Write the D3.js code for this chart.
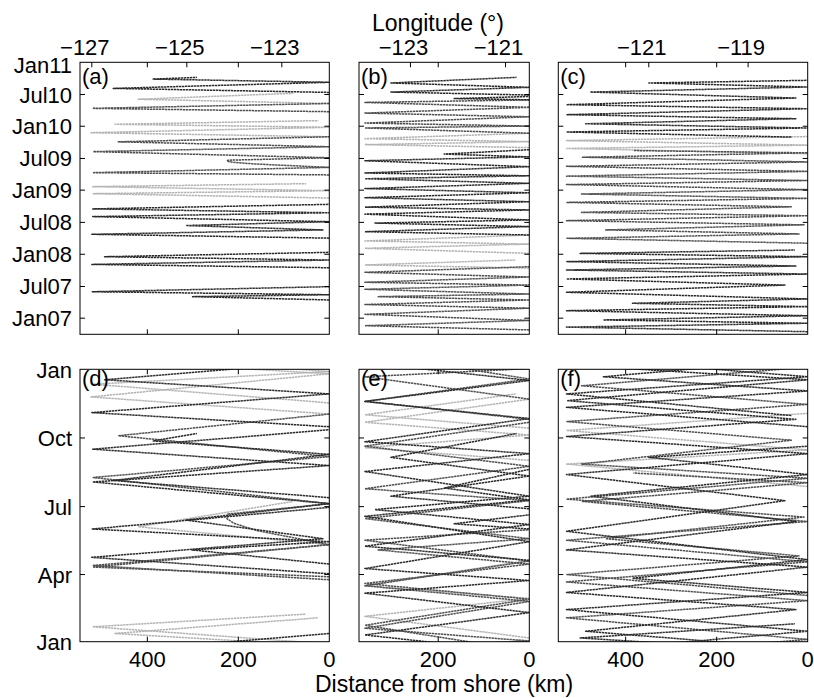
<!DOCTYPE html>
<html>
<head>
<meta charset="utf-8">
<script src="https://cdn.jsdelivr.net/npm/d3@7"></script>
<style>
  body { margin: 0; background: #fff; }
  svg text { font-family: "Liberation Sans", Arial, Helvetica, sans-serif; fill: #000; }
</style>
</head>
<body>
<svg id="chart" width="814" height="698"></svg>
<script>
// Glider transects: each mission is a list of turnaround points [date, distance from shore in km].
// Glider id selects the grey shade of the track.

// Line 66.7 (Monterey) -- panels (a) and (d)
const line67Missions = [
  { glider: "A", track: [["2007-04-15",0],["2007-05-04",302],["2007-05-15",0],["2007-06-01",521],["2007-06-30",0]] },
  { glider: "A", track: [["2007-10-16",0],["2007-11-04",522],["2007-11-29",0],["2007-12-18",494],["2008-01-12",0]] },
  { glider: "A", track: [["2008-04-02",0],["2008-04-24",522],["2008-05-19",14],["2008-06-13",315],["2008-07-05",0],["2008-08-03",520],["2008-08-25",0],["2008-09-16",520],["2008-10-12",0]] },
  { glider: "C", track: [["2008-11-17",0],["2008-12-12",519],["2008-12-29",0],["2009-01-21",520],["2009-02-07",51]] },
  { glider: "B", track: [["2009-03-29",0],["2009-04-11",520],["2009-05-11",0],["2009-05-30",160],["2009-06-09",211],["2009-06-15",225],["2009-06-21",223],["2009-07-05",0],["2009-08-09",519],["2009-09-06",0],["2009-10-04",464],["2009-11-02",0]] },
  { glider: "C", track: [["2009-11-02",0],["2009-11-25",524],["2009-12-26",0],["2010-01-12",471],["2010-02-02",24]] },
  { glider: "B", track: [["2010-03-25",0],["2010-04-13",520],["2010-05-11",0]] },
  { glider: "C", track: [["2010-05-11",0],["2010-06-04",420],["2010-07-08",79]] },
  { glider: "A", track: [["2010-07-13",0],["2010-08-05",475],["2010-09-09",0],["2010-09-27",387],["2010-10-07",291]] }
];

// Line 80 (Point Conception) -- panels (b) and (e)
const line80Missions = [
  { glider: "B", track: [["2006-10-26",0],["2006-11-19",361],["2006-12-19",0],["2007-01-23",361],["2007-02-27",0],["2007-03-20",361],["2007-04-15",0],["2007-05-04",332],["2007-05-19",0],["2007-06-15",361],["2007-07-09",0],["2007-07-25",361],["2007-08-24",0],["2007-09-20",361],["2007-10-22",0]] },
  { glider: "C", track: [["2007-10-14",0],["2007-11-01",361],["2007-11-29",30]] },
  { glider: "C", track: [["2008-01-06",0],["2008-02-04",361],["2008-02-28",0],["2008-03-17",361],["2008-04-20",0]] },
  { glider: "A", track: [["2008-04-20",0],["2008-05-09",361],["2008-06-07",0],["2008-06-27",339],["2008-07-15",0],["2008-08-17",361],["2008-09-10",0],["2008-09-26",361],["2008-10-27",0],["2008-11-19",361],["2008-12-17",0],["2009-01-10",361],["2009-02-09",0],["2009-03-07",361],["2009-03-24",0],["2009-04-09",361],["2009-05-15",0],["2009-06-18",361],["2009-07-10",0],["2009-07-26",187],["2009-08-20",0]] },
  { glider: "C", track: [["2009-09-01",0],["2009-09-18",361],["2009-10-05",0],["2009-10-22",361],["2009-11-22",0]] },
  { glider: "B", track: [["2009-11-22",0],["2009-12-22",361],["2010-01-02",0],["2010-01-19",361],["2010-02-24",0],["2010-03-17",361],["2010-04-19",0],["2010-05-17",361],["2010-05-31",0]] },
  { glider: "A", track: [["2010-06-01",0],["2010-06-08",165],["2010-06-20",0]] },
  { glider: "A", track: [["2010-06-28",0],["2010-07-15",304],["2010-08-11",0],["2010-09-05",304],["2010-10-07",28]] }
];

// Line 90 (Dana Point) -- panels (c) and (f)
const line90Missions = [
  { glider: "A", track: [["2006-10-16",0],["2006-11-11",530],["2006-12-03",0],["2006-12-22",449],["2007-01-15",0],["2007-02-13",530],["2007-03-08",0],["2007-03-27",385],["2007-04-21",0],["2007-05-29",530],["2007-07-09",50],["2007-08-13",530],["2007-09-10",0],["2007-10-03",530],["2007-10-26",26],["2007-11-20",529],["2007-12-18",0],["2008-01-06",500],["2008-01-25",28]] },
  { glider: "B", track: [["2008-03-04",0],["2008-04-01",529],["2008-04-26",19],["2008-05-19",444],["2008-06-17",8],["2008-07-11",530],["2008-08-08",0],["2008-08-27",497],["2008-09-28",36],["2008-10-23",529],["2008-11-15",0],["2008-12-10",497],["2009-01-04",0],["2009-02-02",530],["2009-02-25",0],["2009-03-22",530],["2009-04-18",0],["2009-05-17",530],["2009-06-11",0],["2009-07-08",495],["2009-08-02",0],["2009-08-15",383]] },
  { glider: "C", track: [["2009-07-28",0],["2009-08-27",530],["2009-09-15",0],["2009-10-11",530],["2009-11-03",0]] },
  { glider: "A", track: [["2009-10-31",36],["2009-11-29",530],["2009-12-22",0],["2010-01-15",488],["2010-02-13",26],["2010-03-08",530],["2010-04-11",0],["2010-05-04",530],["2010-06-11",26],["2010-07-15",478],["2010-08-13",0],["2010-09-05",349],["2010-09-20",0]] }
];

const gliderIds = ["A", "B", "C"];
const gliderShades = ["#2b2b2b", "#505050", "#b3b3b3"];

const lonTicks67 = [-127, -125, -123];
const lonTicks80 = [-123, -121];
const lonTicks90 = [-121, -119];
const kmTicks = [400, 200, 0];

// ---------------------------------------------------------------------------
const parseDate = d3.utcParse("%Y-%m-%d");
const svg = d3.select("#chart");
const FONT = 22;
const LABEL_FONT = 23;
const TICK = 5;

const shade = d3.scaleOrdinal().domain(gliderIds).range(gliderShades);

const topRow = { y0: 62.3, y1: 334.3 };
const botRow = { y0: 369.3, y1: 641.7 };

const panels = [
  { top: "a", bot: "d", missions: line67Missions, x0: 80,    x1: 329.3, maxKm: 548, lon0: -122.0,  kmPerDeg: 104.4, lonTicks: lonTicks67 },
  { top: "b", bot: "e", missions: line80Missions, x0: 359,   x1: 529.3, maxKm: 374, lon0: -120.50, kmPerDeg: 104.4, lonTicks: lonTicks80 },
  { top: "c", bot: "f", missions: line90Missions, x0: 558.3, x1: 807.7, maxKm: 548, lon0: -117.80, kmPerDeg: 109.1, lonTicks: lonTicks90 }
];

// time axes
const yTop = d3.scaleUtc()
  .domain([new Date(Date.UTC(2006, 9, 1)), new Date(Date.UTC(2011, 0, 1))])
  .range([topRow.y1, topRow.y0]);
const refYear = 2001;
const yBot = d3.scaleUtc()
  .domain([new Date(Date.UTC(refYear, 0, 1)), new Date(Date.UTC(refYear + 1, 0, 1))])
  .range([botRow.y1, botRow.y0]);

const topTicks = d3.utcMonth.every(6).range(new Date(Date.UTC(2007, 0, 1)), new Date(Date.UTC(2011, 0, 2)));
const botTicks = d3.utcMonth.every(3).range(new Date(Date.UTC(refYear, 0, 1)), new Date(Date.UTC(refYear + 1, 0, 2)));
const fmtTop = d3.utcFormat("%b%y");
const fmtBot = d3.utcFormat("%b");

const defs = svg.append("defs");

function frame(g, x0, x1, y0, y1) {
  g.append("rect").attr("x", x0).attr("y", y0).attr("width", x1 - x0).attr("height", y1 - y0)
    .attr("fill", "none").attr("stroke", "#000").attr("stroke-width", 1);
}

function tickMarks(g, x, y, xs, ys, x0, x1, y0, y1) {
  // inward ticks on all four sides
  xs.forEach(v => {
    const px = x(v);
    if (px <= x0 + 0.5 || px >= x1 - 0.5) return;
    g.append("line").attr("x1", px).attr("x2", px).attr("y1", y1).attr("y2", y1 - TICK).attr("stroke", "#000");
    g.append("line").attr("x1", px).attr("x2", px).attr("y1", y0).attr("y2", y0 + TICK).attr("stroke", "#000");
  });
  ys.forEach(v => {
    const py = y(v);
    if (py <= y0 + 0.5 || py >= y1 - 0.5) return;
    g.append("line").attr("x1", x0).attr("x2", x0 + TICK).attr("y1", py).attr("y2", py).attr("stroke", "#000");
    g.append("line").attr("x1", x1).attr("x2", x1 - TICK).attr("y1", py).attr("y2", py).attr("stroke", "#000");
  });
}

function sortedMissions(ms) {
  const order = { C: 0, B: 1, A: 2 };
  return ms.slice().sort((p, q) => order[p.glider] - order[q.glider]);
}

function drawTracks(g, data, lineGen) {
  g.selectAll("path").data(data).join("path")
    .attr("d", m => lineGen(m.pts))
    .attr("fill", "none").attr("stroke", m => shade(m.glider))
    .attr("stroke-width", 1.5).attr("stroke-linejoin", "round")
    .attr("stroke-dasharray", "2.4,0.6");
}

panels.forEach((p, i) => {
  const x = d3.scaleLinear().domain([p.maxKm, 0]).range([p.x0, p.x1]);

  // ---- top panel: full record
  const gT = svg.append("g");
  const clipT = "clipT" + i;
  defs.append("clipPath").attr("id", clipT).append("rect")
    .attr("x", p.x0).attr("y", topRow.y0).attr("width", p.x1 - p.x0).attr("height", topRow.y1 - topRow.y0);

  const full = sortedMissions(p.missions).map(m => ({
    glider: m.glider,
    pts: m.track.map(d => [parseDate(d[0]), d[1]])
  }));
  const lineT = d3.line().x(d => x(d[1])).y(d => yTop(d[0]));
  drawTracks(gT.append("g").attr("clip-path", `url(#${clipT})`), full, lineT);

  frame(gT, p.x0, p.x1, topRow.y0, topRow.y1);
  tickMarks(gT, x, yTop, kmTicks, topTicks, p.x0, p.x1, topRow.y0, topRow.y1);

  // longitude axis along the top
  const lonToKm = lon => (p.lon0 - lon) * p.kmPerDeg;
  p.lonTicks.forEach(lon => {
    const px = x(lonToKm(lon));
    gT.append("line").attr("x1", px).attr("x2", px).attr("y1", topRow.y0).attr("y2", topRow.y0 + TICK).attr("stroke", "#000");
    gT.append("text").attr("x", px - 7).attr("y", 55).attr("text-anchor", "middle")
      .attr("font-size", FONT).text("\u2212" + Math.abs(lon));
  });

  gT.append("text").attr("x", p.x0 + 2).attr("y", 84).attr("font-size", FONT).text(`(${p.top})`);

  // ---- bottom panel: all years folded onto one annual cycle
  const gB = svg.append("g");
  const clipB = "clipB" + i;
  defs.append("clipPath").attr("id", clipB).append("rect")
    .attr("x", p.x0).attr("y", botRow.y0).attr("width", p.x1 - p.x0).attr("height", botRow.y1 - botRow.y0);

  const folded = [];
  full.forEach(m => {
    const yFirst = m.pts[0][0].getUTCFullYear();
    const yLast = m.pts[m.pts.length - 1][0].getUTCFullYear();
    for (let yr = yFirst; yr <= yLast; yr++) {
      folded.push({
        glider: m.glider,
        pts: m.pts.map(d => [d3.utcYear.offset(d[0], refYear - yr), d[1]])
      });
    }
  });
  const lineB = d3.line().x(d => x(d[1])).y(d => yBot(d[0]));
  drawTracks(gB.append("g").attr("clip-path", `url(#${clipB})`), folded, lineB);

  frame(gB, p.x0, p.x1, botRow.y0, botRow.y1);
  tickMarks(gB, x, yBot, kmTicks, botTicks, p.x0, p.x1, botRow.y0, botRow.y1);

  kmTicks.filter(k => k <= p.maxKm).forEach(k => {
    gB.append("text").attr("x", x(k)).attr("y", 667).attr("text-anchor", "middle")
      .attr("font-size", FONT).text(k);
  });
  gB.append("text").attr("x", p.x0 + 2).attr("y", 386).attr("font-size", FONT).text(`(${p.bot})`);

  // date labels only on the left column; the top label sits just inside the frame
  if (i === 0) {
    topTicks.forEach((t, k) => {
      const py = k === topTicks.length - 1 ? yTop(t) + 11 : yTop(t) + 8;
      gT.append("text").attr("x", 72).attr("y", py).attr("text-anchor", "end")
        .attr("font-size", FONT).text(fmtTop(t));
    });
    botTicks.forEach((t, k) => {
      const py = k === botTicks.length - 1 ? yBot(t) + 9 : yBot(t) + 8;
      gB.append("text").attr("x", 72).attr("y", py).attr("text-anchor", "end")
        .attr("font-size", FONT).text(fmtBot(t));
    });
  }
});

svg.append("text").attr("x", 438).attr("y", 31).attr("text-anchor", "middle")
  .attr("font-size", LABEL_FONT).text("Longitude (\u00b0)");
svg.append("text").attr("x", 444).attr("y", 692).attr("text-anchor", "middle")
  .attr("font-size", LABEL_FONT).text("Distance from shore (km)");
</script>
</body>
</html>
